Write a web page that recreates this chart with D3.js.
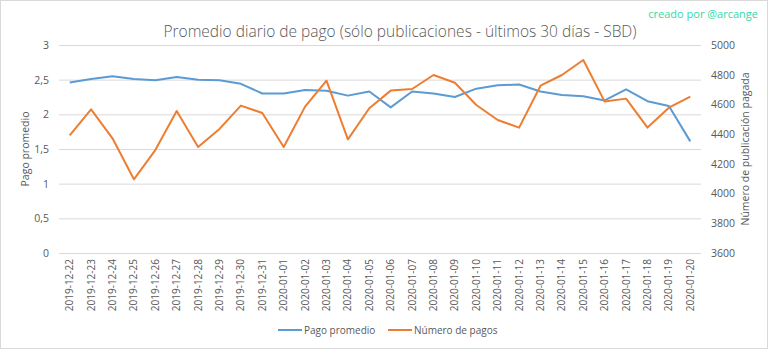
<!DOCTYPE html>
<html><head><meta charset="utf-8">
<script src="https://cdn.jsdelivr.net/npm/d3@7"></script>
<style>body{margin:0;background:#fff}svg{display:block}text{font-family:"Open Sans",sans-serif}</style>
</head><body>
<svg id="c" width="768" height="349"></svg>
<script>
const dates = ["2019-12-22","2019-12-23","2019-12-24","2019-12-25","2019-12-26","2019-12-27","2019-12-28","2019-12-29","2019-12-30","2019-12-31","2020-01-01","2020-01-02","2020-01-03","2020-01-04","2020-01-05","2020-01-06","2020-01-07","2020-01-08","2020-01-09","2020-01-10","2020-01-11","2020-01-12","2020-01-13","2020-01-14","2020-01-15","2020-01-16","2020-01-17","2020-01-18","2020-01-19","2020-01-20"];
const pagoPromedio = [2.46,2.51,2.55,2.51,2.49,2.54,2.50,2.49,2.44,2.30,2.30,2.35,2.34,2.27,2.33,2.10,2.33,2.30,2.25,2.37,2.42,2.43,2.33,2.28,2.26,2.20,2.36,2.19,2.12,1.61];
const numeroPagos = [4392,4567,4372,4096,4293,4556,4313,4435,4592,4542,4313,4585,4760,4365,4574,4693,4704,4798,4746,4596,4495,4444,4726,4798,4899,4619,4639,4444,4578,4652];
const leftTicks = [0,0.5,1,1.5,2,2.5,3];
const rightTicks = [3600,3800,4000,4200,4400,4600,4800,5000];

const svg = d3.select("#c");
const W=768,H=349;
const m={l:59,r:701,t:45,b:253};
svg.append("rect").attr("x",0.5).attr("y",0.5).attr("width",W-1).attr("height",H-1).attr("fill","#fff").attr("stroke","#d9d9d9");

const x = d3.scaleBand().domain(dates).range([m.l,m.r]);
const yL = d3.scaleLinear().domain([0,3]).range([m.b,m.t]);
const yR = d3.scaleLinear().domain([3600,5000]).range([m.b,m.t]);

// grid
svg.append("g").selectAll("line").data(leftTicks).join("line")
  .attr("x1",m.l).attr("x2",m.r).attr("y1",d=>yL(d)+0.5).attr("y2",d=>yL(d)+0.5)
  .attr("stroke","#d9d9d9").attr("stroke-width",1);

const txt="#595959";
// left axis
const ga = svg.append("g").attr("transform",`translate(${m.l},0)`)
  .call(d3.axisLeft(yL).tickValues(leftTicks).tickSize(0).tickPadding(10).tickFormat(d=>String(d).replace(".",",")));
ga.select(".domain").remove();
ga.selectAll("text").attr("fill",txt).attr("font-size",10.5).attr("font-family","'Open Sans',sans-serif");
// right axis
const gr = svg.append("g").attr("transform",`translate(${m.r},0)`)
  .call(d3.axisRight(yR).tickValues(rightTicks).tickSize(0).tickPadding(10).tickFormat(d3.format("d")));
gr.select(".domain").remove();
gr.selectAll("text").attr("fill",txt).attr("font-size",10.5).attr("font-family","'Open Sans',sans-serif");
// x axis
const gx = svg.append("g").attr("transform",`translate(0,${m.b})`)
  .call(d3.axisBottom(x).tickSize(0).tickPadding(0));
gx.select(".domain").remove();
gx.selectAll("text").attr("fill",txt).attr("font-size",10).attr("font-family","'Open Sans',sans-serif")
  .attr("text-anchor","end").attr("dy","0.35em").attr("transform","translate(0,6) rotate(-90)").attr("x",0).attr("y",0);

// lines
const lineL = d3.line().x((d,i)=>x(dates[i])+x.bandwidth()/2).y(d=>yL(d));
const lineR = d3.line().x((d,i)=>x(dates[i])+x.bandwidth()/2).y(d=>yR(d));
svg.append("path").datum(pagoPromedio).attr("d",lineL).attr("fill","none").attr("stroke","#5b9bd5").attr("stroke-width",2).attr("stroke-linejoin","round");
svg.append("path").datum(numeroPagos).attr("d",lineR).attr("fill","none").attr("stroke","#ed7d31").attr("stroke-width",2).attr("stroke-linejoin","round");

// titles
svg.append("text").attr("x",400).attr("y",37).attr("text-anchor","middle").attr("fill",txt)
  .attr("font-size",15.5).attr("font-weight",300).text("Promedio diario de pago (sólo publicaciones - últimos 30 días - SBD)");
svg.append("text").attr("x",758).attr("y",18).attr("text-anchor","end").attr("fill","#33d9a6")
  .attr("font-size",11).text("creado por @arcange");
svg.append("text").attr("transform",`translate(29,${(m.t+m.b)/2}) rotate(-90)`).attr("text-anchor","middle")
  .attr("fill",txt).attr("font-size",10.5).text("Pago promedio");
svg.append("text").attr("transform",`translate(749,${(m.t+m.b)/2}) rotate(-90)`).attr("text-anchor","middle")
  .attr("fill",txt).attr("font-size",10.5).text("Número de publicación pagada");

// legend
const leg=[{n:"Pago promedio",c:"#5b9bd5",x:278},{n:"Número de pagos",c:"#ed7d31",x:388}];
const lg=svg.append("g").selectAll("g").data(leg).join("g").attr("transform",d=>`translate(${d.x},330)`);
lg.append("line").attr("x1",0).attr("x2",24).attr("stroke",d=>d.c).attr("stroke-width",2);
lg.append("text").attr("x",26).attr("dy","0.35em").attr("fill",txt).attr("font-size",10).text(d=>d.n);
</script>
</body></html>
